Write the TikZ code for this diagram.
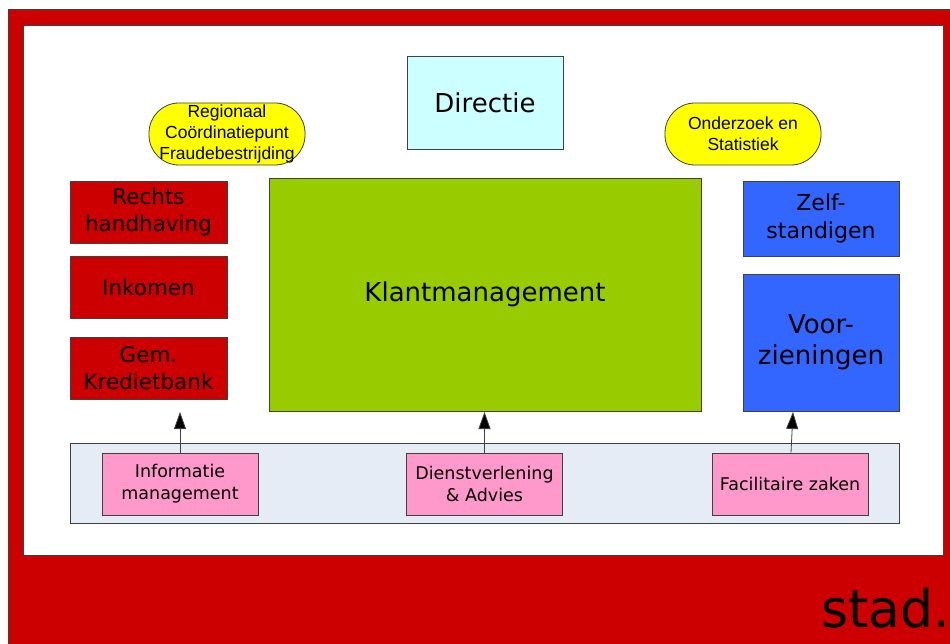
\documentclass[tikz,border=0pt]{standalone}
\usepackage{fontspec}
\setmainfont{DejaVu Sans}
\newfontfamily\arialf{Liberation Sans}
\usetikzlibrary{arrows.meta}
\definecolor{frame}{HTML}{CC0000}
\definecolor{kgreen}{HTML}{99CC00}
\definecolor{kblue}{HTML}{3366FF}
\definecolor{kcyan}{HTML}{CCFFFF}
\definecolor{kpink}{HTML}{FF99CC}
\definecolor{kyellow}{HTML}{FFFF00}
\definecolor{kpanel}{HTML}{E6ECF6}
\definecolor{kline}{HTML}{404040}
\tikzset{
  unitbox/.style={draw=kline, line width=0.8pt, inner sep=0pt, align=center, text=black},
  redbox/.style={unitbox, fill=frame, minimum width=157pt, minimum height=62pt, font=\fontsize{21.5}{26.5}\selectfont},
  bluebox/.style={unitbox, fill=kblue, minimum width=156pt},
  pinkbox/.style={unitbox, fill=kpink, minimum width=156pt, minimum height=62pt, font=\fontsize{17.5}{22}\selectfont},
  pill/.style={unitbox, fill=kyellow, minimum width=156pt, minimum height=62pt, rounded corners=30pt, font=\arialf\fontsize{17.5}{21}\selectfont},
  uparrow/.style={draw=kline, line width=0.8pt, -{Triangle[length=17pt,width=12pt,fill=black]}},
}
\begin{document}
\begin{tikzpicture}[x=1pt,y=-1pt]
\useasboundingbox (0,0) rectangle (950,644);
\clip (0,0) rectangle (950,644);
\fill[white] (0,0) rectangle (950,644);
% outer red frame and white inner area
\draw[kline, line width=0.8pt, fill=frame] (8,9) rectangle (970,670);
\draw[kline, line width=0.8pt, fill=white] (23,25) rectangle (943,555);
% top
\node[unitbox, fill=kcyan, minimum width=156pt, minimum height=93pt, font=\fontsize{26}{31}\selectfont] (dir) at (485,102.5) {Directie};
\node[pill] (rcf) at (227,134) {Regionaal\\Coördinatiepunt\\Fraudebestrijding};
\node[pill] (ons) at (743,134) {Onderzoek en\\Statistiek};
% left red boxes
\node[redbox] (rh) at (148.5,212) {Rechts\\handhaving};
\node[redbox] (ink) at (148.5,287) {Inkomen};
\node[redbox] (gem) at (148.5,368) {Gem.\\Kredietbank};
% centre
\node[unitbox, fill=kgreen, minimum width=432pt, minimum height=233pt, font=\fontsize{26}{31}\selectfont] (km) at (485,294.5) {Klantmanagement};
% right blue boxes
\node[bluebox, minimum height=75pt, font=\fontsize{22}{28}\selectfont] (zelf) at (821,218.5) {Zelf-\\standigen};
\node[bluebox, minimum height=137pt, font=\fontsize{26}{31}\selectfont] (voor) at (821,342.5) {Voor-\\zieningen};
% bottom panel
\node[unitbox, fill=kpanel, minimum width=829pt, minimum height=80pt] (panel) at (484.5,483) {};
\node[pinkbox] (info) at (180,484) {Informatie\\management};
\node[pinkbox] (dienst) at (484.5,484) {Dienstverlening\\\& Advies};
\node[pinkbox] (fac) at (790,484) {Facilitaire zaken};
% arrows
\coordinate (t1) at (180,412);
\coordinate (t2) at (484.5,412);
\coordinate (t3) at (793,412);
\draw[uparrow] (info.north) -- (t1);
\draw[uparrow] (dienst.north) -- (t2);
\draw[uparrow] (fac.north -| 791,0) -- (t3);
% logo text
\node[anchor=base west, inner sep=0pt, font=\fontsize{52}{60}\selectfont] (stad) at (821,627) {stad.};
\end{tikzpicture}
\end{document}
